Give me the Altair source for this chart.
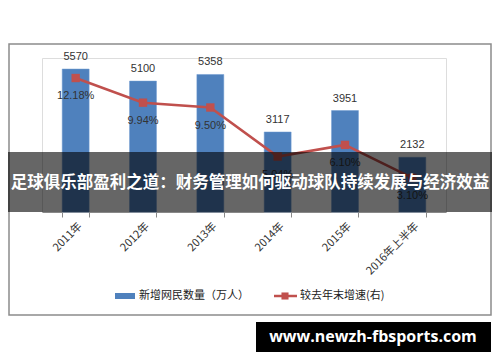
import altair as alt
import pandas as pd

years = ["2011年", "2012年", "2013年", "2014年", "2015年", "2016年上半年"]
new_users = [5570, 5100, 5358, 3117, 3951, 2132]
growth = [0.1218, 0.0994, 0.0950, 0.0504, 0.0610, 0.0310]
growth_labels = ["12.18%", "9.94%", "9.50%", "5.04%", "6.10%", "3.10%"]
legend_labels = ["新增网民数量（万人）", "较去年末增速(右)"]
banner_title = "足球俱乐部盈利之道：财务管理如何驱动球队持续发展与经济效益"
watermark = "www.newzh-fbsports.com"

BLUE = "#4F81BD"
RED = "#C0504D"
NUMF = "Liberation Sans"
CJKF = "Noto Sans CJK SC"

df = pd.DataFrame({"year": years, "users": new_users, "growth": growth, "glabel": growth_labels})
one = pd.DataFrame({"k": [0]})

xenc = alt.X("year:N", sort=years, title=None,
             scale=alt.Scale(paddingInner=0.6, paddingOuter=0.3),
             axis=alt.Axis(labelAngle=315, labelFont=CJKF, labelFontSize=11, labelColor="#333",
                           tickBand="extent", tickColor="#888", tickSize=5, domainColor="#888",
                           labelPadding=3, grid=False))

base = alt.Chart(df)

bars = base.mark_bar(color=BLUE, stroke="#6f9bd0", strokeWidth=0.5).encode(
    x=xenc,
    y=alt.Y("users:Q", title=None, scale=alt.Scale(domain=[0, 6000]),
            axis=alt.Axis(orient="left", values=[0, 1000, 2000, 3000, 4000, 5000, 6000],
                          labelFont=NUMF, labelFontSize=11, labelColor="#333",
                          grid=True, gridColor="#8a8a8a", gridWidth=1,
                          domainColor="#888", tickColor="#888", tickSize=4, labelPadding=6))
)
bar_text = base.mark_text(font=NUMF, fontSize=11, color="#333", dy=-12, baseline="middle").encode(
    x=alt.X("year:N", sort=years),
    y=alt.Y("users:Q", scale=alt.Scale(domain=[0, 6000]), axis=None),
    text="users:Q",
)
left = alt.layer(bars, bar_text)

yr = alt.Y("growth:Q", title=None, scale=alt.Scale(domain=[0, 0.14]),
           axis=alt.Axis(orient="right", values=[0, 0.02, 0.04, 0.06, 0.08, 0.10, 0.12, 0.14],
                         format=".2%", labelFont=NUMF, labelFontSize=11, labelColor="#333",
                         grid=False, domainColor="#888", tickColor="#888", tickSize=4, labelPadding=3))
line = base.mark_line(color=RED, strokeWidth=2.5).encode(x=alt.X("year:N", sort=years), y=yr)
pts = base.mark_square(color=RED, size=70, opacity=1).encode(
    x=alt.X("year:N", sort=years), y=alt.Y("growth:Q", scale=alt.Scale(domain=[0, 0.14]), axis=None))
line_text = base.mark_text(font=NUMF, fontSize=11, color="#333", dy=18, baseline="middle").encode(
    x=alt.X("year:N", sort=years), y=alt.Y("growth:Q", scale=alt.Scale(domain=[0, 0.14]), axis=None),
    text="glabel:N")
right = alt.layer(line, pts, line_text)

dec = alt.Chart(one)
border = dec.mark_rect(fillOpacity=0, stroke="#8c8c8c", strokeWidth=1.5).encode(
    x=alt.value(-33), x2=alt.value(449), y=alt.value(-14), y2=alt.value(257))
banner = dec.mark_rect(color="black", opacity=0.6).encode(
    x=alt.value(-50), x2=alt.value(470), y=alt.value(94), y2=alt.value(154))
banner_text = dec.mark_text(font=CJKF, fontSize=16.5, fontWeight="bold", color="white",
                            align="center", baseline="middle", text=banner_title).encode(
    x=alt.value(208), y=alt.value(125))
leg_rect = dec.mark_rect(color=BLUE).encode(
    x=alt.value(73), x2=alt.value(93), y=alt.value(235), y2=alt.value(241))
leg_t1 = dec.mark_text(font=CJKF, fontSize=11, color="#222", align="left", baseline="middle",
                       text=legend_labels[0]).encode(x=alt.value(97), y=alt.value(238))
leg_line = dec.mark_rule(color=RED, strokeWidth=2.5).encode(
    x=alt.value(232), x2=alt.value(255), y=alt.value(238))
leg_pt = dec.mark_square(color=RED, size=50, opacity=1).encode(x=alt.value(243), y=alt.value(238))
leg_t2 = dec.mark_text(font=CJKF, fontSize=11, color="#222", align="left", baseline="middle",
                       text=legend_labels[1]).encode(x=alt.value(258), y=alt.value(238))
wm_rect = dec.mark_rect(color="black").encode(
    x=alt.value(214), x2=alt.value(449), y=alt.value(264), y2=alt.value(294))
wm_text = dec.mark_text(font="Open Sans", fontSize=16, fontWeight="bold", color="white",
                        align="center", baseline="middle", text=watermark).encode(
    x=alt.value(331), y=alt.value(279))

chart = alt.layer(
    border, left, right, banner, banner_text, leg_rect, leg_t1, leg_line, leg_pt, leg_t2, wm_rect, wm_text
).resolve_scale(y="independent").properties(
    width=404, height=154,
    autosize=alt.AutoSizeParams(type="none"),
    padding={"left": 34, "top": 50, "right": 46, "bottom": 142},
).configure_view(stroke=None).configure(background="white")

chart.save("out.html", embed_options={"renderer": "svg", "actions": False})
